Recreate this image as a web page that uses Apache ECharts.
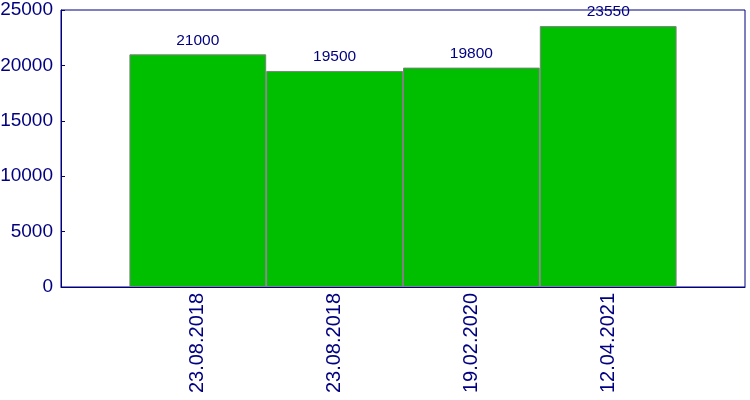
<!DOCTYPE html>
<html>
<head>
<meta charset="utf-8">
<script src="https://cdn.jsdelivr.net/npm/echarts@6/dist/echarts.min.js"></script>
<style>html,body{margin:0;padding:0;background:#fff}#c{width:750px;height:400px}</style>
</head>
<body>
<div id="c"></div>
<script>
var categories = ['', '23.08.2018', '23.08.2018', '19.02.2020', '12.04.2021', ''];
var values = [null, 21000, 19500, 19800, 23550, null];
var yTicks = [0, 5000, 10000, 15000, 20000, 25000];

var navy = '#000080';
var font = 'Liberation Sans, Arial, sans-serif';
var chart = echarts.init(document.getElementById('c'), null, {renderer: 'canvas'});
chart.setOption({
  animation: false,
  backgroundColor: '#fff',
  grid: {left: 61, right: 5, top: 10, bottom: 113, show: true, borderColor: navy, borderWidth: 1, containLabel: false, outerBoundsMode: 'none'},
  xAxis: {
    type: 'category',
    data: categories,
    boundaryGap: false,
    axisLine: {lineStyle: {color: navy, width: 1}},
    axisTick: {show: false},
    splitLine: {show: false},
    axisLabel: {rotate: 90, color: navy, fontSize: 20, fontFamily: font, margin: 6, interval: 0}
  },
  yAxis: {
    type: 'value',
    min: yTicks[0],
    max: yTicks[yTicks.length - 1],
    interval: 5000,
    axisLine: {show: true, lineStyle: {color: navy, width: 1}},
    axisTick: {show: true, inside: true, length: 4, lineStyle: {color: navy}},
    splitLine: {show: false},
    axisLabel: {color: navy, fontSize: 19, fontFamily: font, margin: 8, formatter: function (v) { return String(v); }}
  },
  series: [{
    type: 'bar',
    data: values,
    barWidth: '100%',
    itemStyle: {color: '#00bf00', borderColor: '#808080', borderWidth: 1},
    label: {show: true, position: 'top', distance: 6, color: navy, fontSize: 15.5, fontFamily: font}
  }]
});
</script>
</body>
</html>
